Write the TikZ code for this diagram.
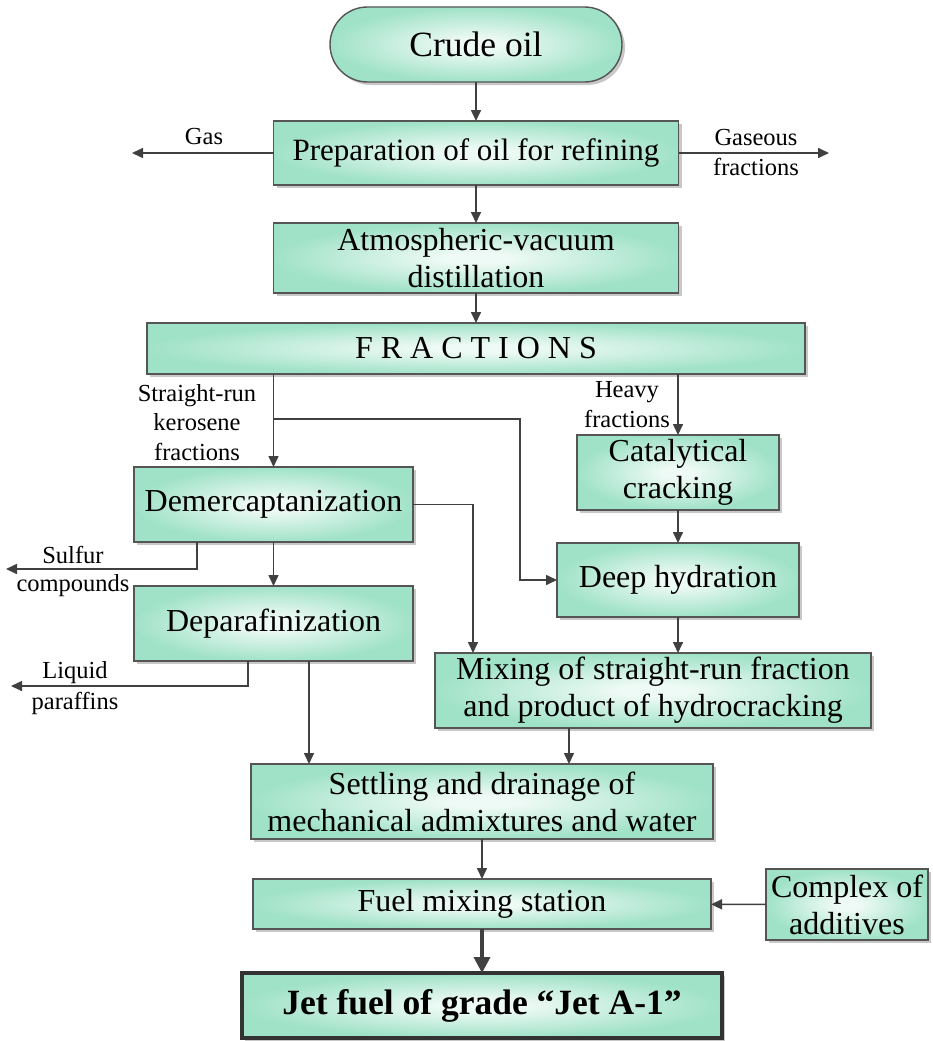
\documentclass[tikz,border=0pt]{standalone}
\usepackage{fontspec}
\setmainfont{Liberation Serif}
\usetikzlibrary{arrows.meta,shadows}

\definecolor{mintout}{RGB}{160,226,200}
\definecolor{mintin}{RGB}{238,250,245}
\definecolor{edgegray}{RGB}{85,85,85}
\definecolor{wire}{RGB}{64,64,64}
\definecolor{shadowgray}{RGB}{200,200,200}

% soft glow from the middle of each box towards its border
\pgfdeclareradialshading{mintglow}{\pgfpointorigin}{%
  color(0bp)=(mintin); color(4bp)=(mintin); color(25bp)=(mintout); color(50bp)=(mintout)}

\tikzset{
  box/.style={draw=edgegray, line width=1.4pt, shading=mintglow,
    inner sep=0pt, outer sep=0pt, align=center,
    drop shadow={shadow xshift=3pt, shadow yshift=-3pt, fill=shadowgray, opacity=1},
    font=\fontsize{32}{37}\selectfont},
  lbl/.style={inner sep=0pt, align=center, font=\fontsize{24.5}{29.5}\selectfont},
  flow/.style={draw=wire, line width=1.6pt, -{Triangle[length=11pt,width=10pt]}},
  bigflow/.style={draw=wire, line width=3.6pt, -{Triangle[length=16pt,width=16pt]}},
}

\begin{document}
\begin{tikzpicture}[x=1pt,y=-1pt]
\useasboundingbox (0,0) rectangle (933,1041);

% process blocks
\node[box, rounded corners=37.5pt, minimum width=292pt, minimum height=75pt,
      font=\fontsize{35.5}{40}\selectfont] (crude) at (476,44.5) {Crude oil};
\node[box, minimum width=405pt, minimum height=64pt, font=\fontsize{31}{36}\selectfont]
      (prep) at (476,153) {Preparation of oil for refining};
\node[box, minimum width=405pt, minimum height=70pt] (atmos) at (476,258)
      {Atmospheric-vacuum\\distillation};
\node[box, minimum width=658pt, minimum height=51pt] (frac) at (476,348.5)
      {F R A C T I O N S};
\node[box, minimum width=279pt, minimum height=75pt] (demerc) at (273.5,504.5)
      {Demercaptanization};
\node[box, minimum width=279pt, minimum height=75pt] (depar) at (273.5,623.5)
      {Deparafinization};
\node[box, minimum width=202pt, minimum height=75pt] (catal) at (678,472.5)
      {Catalytical\\cracking};
\node[box, minimum width=242pt, minimum height=74pt] (deep) at (678,580)
      {Deep hydration};
\node[box, minimum width=436pt, minimum height=75pt] (mixing) at (653,690.5)
      {Mixing of straight-run fraction\\and product of hydrocracking};
\node[box, minimum width=462pt, minimum height=75pt] (settle) at (482,801.5)
      {Settling and drainage of\\mechanical admixtures and water};
\node[box, minimum width=458pt, minimum height=50pt] (fuel) at (482,904)
      {Fuel mixing station};
\node[box, minimum width=162pt, minimum height=71pt] (complex) at (847,904.5)
      {Complex of\\additives};
\node[box, draw=black!80, line width=3.5pt, minimum width=480pt, minimum height=65pt,
      font=\fontsize{35.5}{40}\selectfont\bfseries] (jet) at (482,1005.5)
      {Jet fuel of grade “Jet A-1”};

% free ends and bends of the connectors
\coordinate (gasend) at (132,153);
\coordinate (gasfrend) at (829,153);
\coordinate (kbranch) at (273.5,419);
\coordinate (bendA) at (520,419);
\coordinate (mixfeed) at (473,0);
\coordinate (sulfx) at (197,0);
\coordinate (sulfend) at (6,569);
\coordinate (liqx) at (248,0);
\coordinate (liqend) at (11,686);
\coordinate (deparout) at (309,0);
\coordinate (mixout) at (569,0);

% connectors
\draw[flow] (crude) -- (prep);
\draw[flow] (prep) -- (atmos);
\draw[flow] (atmos) -- (frac);
\draw[flow] (prep.west) -- (gasend);
\draw[flow] (prep.east) -- (gasfrend);
\draw[flow] (frac.south -| demerc.north) -- (demerc.north);
\draw[flow] (kbranch) -- (bendA) |- (deep.west);
\draw[flow] (frac.south -| catal.north) -- (catal.north);
\draw[flow] (catal) -- (deep);
\draw[flow] (deep.south) -- (deep.south |- mixing.north);
\draw[flow] (demerc.east) -| (mixfeed |- mixing.north);
\draw[flow] (demerc.south -| sulfx) |- (sulfend);
\draw[flow] (demerc) -- (depar);
\draw[flow] (depar.south -| liqx) |- (liqend);
\draw[flow] (depar.south -| deparout) -- (settle.north -| deparout);
\draw[flow] (mixing.south -| mixout) -- (settle.north -| mixout);
\draw[flow] (settle) -- (fuel);
\draw[flow] (complex) -- (fuel);
\draw[bigflow] (fuel) -- (jet);

% stream labels
\node[lbl] (lgas) at (204,137) {Gas};
\node[lbl] (lgasfr) at (756,152.5) {Gaseous\\fractions};
\node[lbl] (lkero) at (197,422.5) {Straight-run\\kerosene\\fractions};
\node[lbl] (lheavy) at (627,404.5) {Heavy\\fractions};
\node[lbl] (lsulf1) at (73,555) {Sulfur};
\node[lbl] (lsulf2) at (73,586) {compounds};
\node[lbl] (lliq1) at (75,673) {Liquid};
\node[lbl] (lliq2) at (75,703) {paraffins};
\end{tikzpicture}
\end{document}
